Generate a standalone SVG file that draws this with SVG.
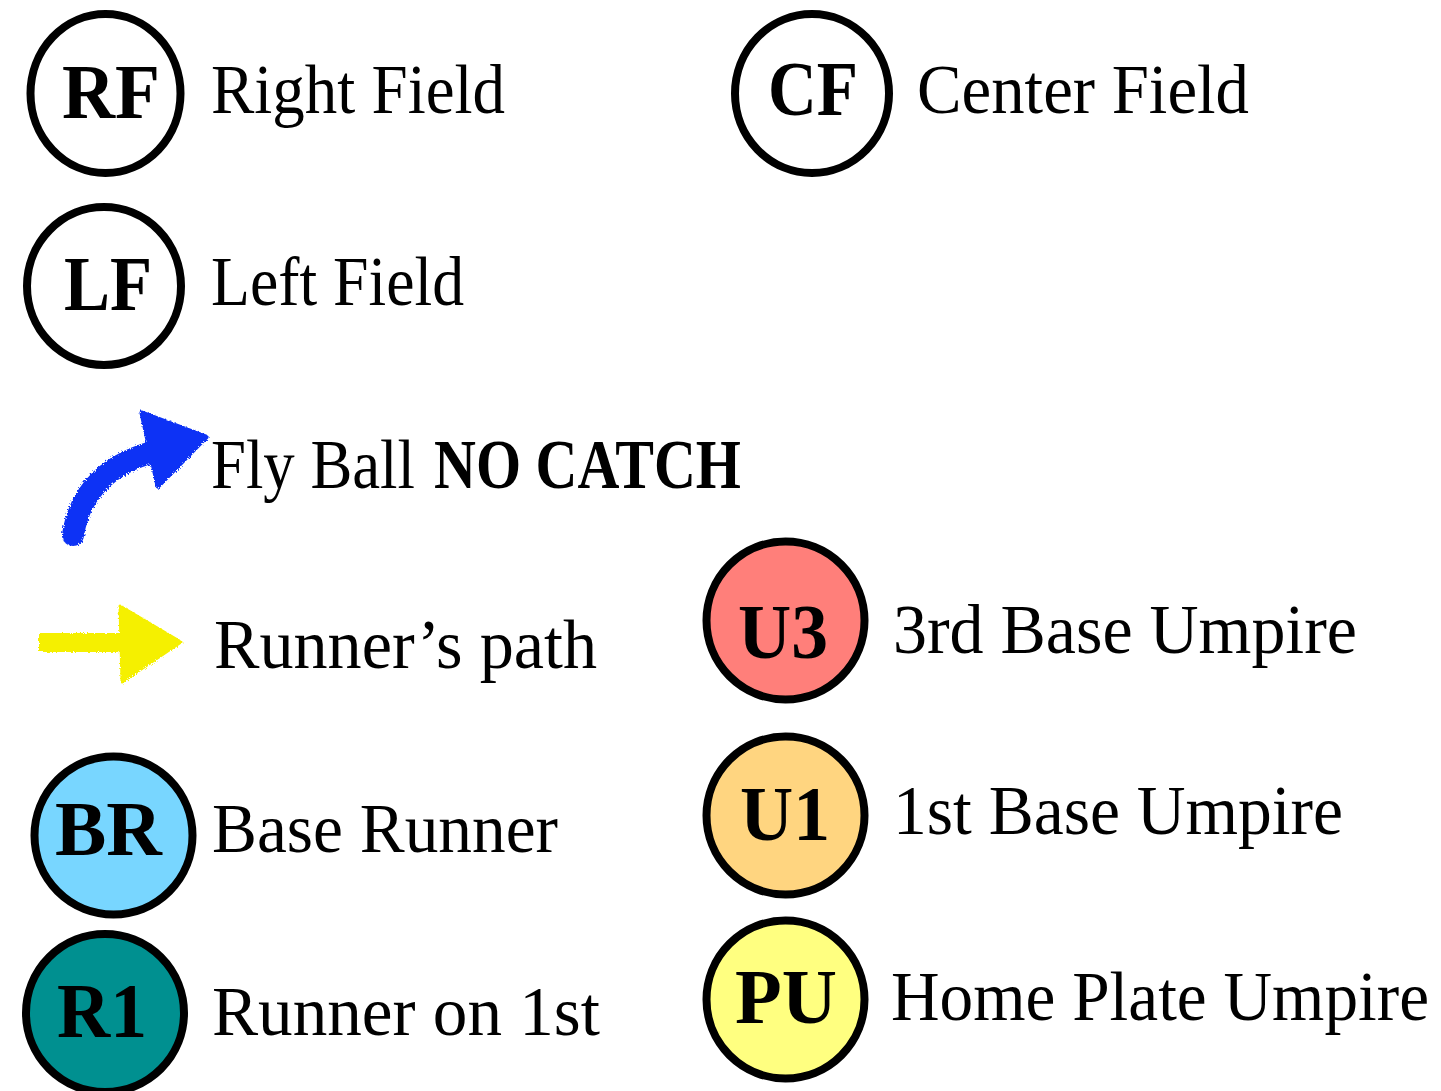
<svg xmlns="http://www.w3.org/2000/svg" width="1441" height="1091" viewBox="0 0 1441 1091">
<style>
.ring{stroke:#000;stroke-width:8}
.lbl{font-family:"Liberation Serif","Times New Roman",serif;font-size:70px;fill:#000}
.tag{font-family:"Liberation Serif","Times New Roman",serif;font-size:78px;font-weight:bold;fill:#000}
</style>
<defs>
<filter id="rough" x="-10%" y="-10%" width="120%" height="120%">
<feTurbulence type="fractalNoise" baseFrequency="0.6" numOctaves="2" seed="3" result="n"/>
<feDisplacementMap in="SourceGraphic" in2="n" scale="4"/>
</filter>
</defs>
<rect width="1441" height="1091" fill="#fff"/>

<g id="rf">
<ellipse cx="105.5" cy="93.5" rx="75" ry="79.5" fill="#fff" class="ring" stroke-width="7"/>
<text class="tag" x="62" y="118" textLength="98" lengthAdjust="spacingAndGlyphs">RF</text>
<text class="lbl" x="211" y="113" textLength="294" lengthAdjust="spacingAndGlyphs">Right Field</text>
</g>
<g id="cf">
<ellipse cx="812" cy="93.5" rx="77" ry="79.5" fill="#fff" class="ring" stroke-width="7"/>
<text class="tag" x="768" y="115" textLength="90" lengthAdjust="spacingAndGlyphs">CF</text>
<text class="lbl" x="917" y="113" textLength="332" lengthAdjust="spacingAndGlyphs">Center Field</text>
</g>
<g id="lf">
<ellipse cx="104" cy="286" rx="77" ry="79" fill="#fff" class="ring" stroke-width="7"/>
<text class="tag" x="64" y="310" textLength="88" lengthAdjust="spacingAndGlyphs">LF</text>
<text class="lbl" x="211" y="305" textLength="253" lengthAdjust="spacingAndGlyphs">Left Field</text>
</g>

<g id="connectors">
<g id="flyball-arrow" filter="url(#rough)">
<path d="M73,535 C80,490 110,462 160,450" fill="none" stroke="#0a32f5" stroke-width="22" stroke-linecap="round"/>
<polygon points="142,413 206,437 158,486" fill="#0a32f5" stroke="#0a32f5" stroke-width="5" stroke-linejoin="round"/>
</g>
<g id="runner-arrow" filter="url(#rough)">
<rect x="39" y="633" width="84" height="19" fill="#f5f000"/>
<polygon points="120,606 181,642 122,682" fill="#f5f000" stroke="#f5f000" stroke-width="3" stroke-linejoin="round"/>
</g>
</g>

<g id="flyball-legend">
<text class="lbl" x="211" y="488" textLength="204" lengthAdjust="spacingAndGlyphs">Fly Ball</text>
<text class="lbl" x="434" y="488" font-weight="bold" textLength="307" lengthAdjust="spacingAndGlyphs">NO CATCH</text>
</g>
<g id="runner-legend">
<text class="lbl" x="214" y="668" textLength="383" lengthAdjust="spacingAndGlyphs">Runner’s path</text>
</g>

<g id="br">
<circle cx="113.5" cy="835.5" r="79" fill="#78d6ff" class="ring"/>
<text class="tag" x="55" y="855" textLength="107" lengthAdjust="spacingAndGlyphs">BR</text>
<text class="lbl" x="212" y="852" textLength="346" lengthAdjust="spacingAndGlyphs">Base Runner</text>
</g>
<g id="r1">
<circle cx="105" cy="1013" r="79" fill="#009090" class="ring"/>
<text class="tag" x="57" y="1037" textLength="90" lengthAdjust="spacingAndGlyphs">R1</text>
<text class="lbl" x="212" y="1035" textLength="388" lengthAdjust="spacingAndGlyphs">Runner on 1st</text>
</g>
<g id="u3">
<circle cx="785.5" cy="620.5" r="79" fill="#ff7f7a" class="ring"/>
<text class="tag" x="738" y="658" textLength="90" lengthAdjust="spacingAndGlyphs">U3</text>
<text class="lbl" x="893" y="653" textLength="464" lengthAdjust="spacingAndGlyphs">3rd Base Umpire</text>
</g>
<g id="u1">
<circle cx="785.5" cy="815.5" r="79" fill="#ffd580" class="ring"/>
<text class="tag" x="740" y="840" textLength="90" lengthAdjust="spacingAndGlyphs">U1</text>
<text class="lbl" x="893" y="834" textLength="450" lengthAdjust="spacingAndGlyphs">1st Base Umpire</text>
</g>
<g id="pu">
<circle cx="785.5" cy="999.5" r="79" fill="#ffff80" class="ring"/>
<text class="tag" x="735" y="1023" textLength="102" lengthAdjust="spacingAndGlyphs">PU</text>
<text class="lbl" x="891" y="1020" font-size="68" textLength="538" lengthAdjust="spacingAndGlyphs">Home Plate Umpire</text>
</g>
</svg>
